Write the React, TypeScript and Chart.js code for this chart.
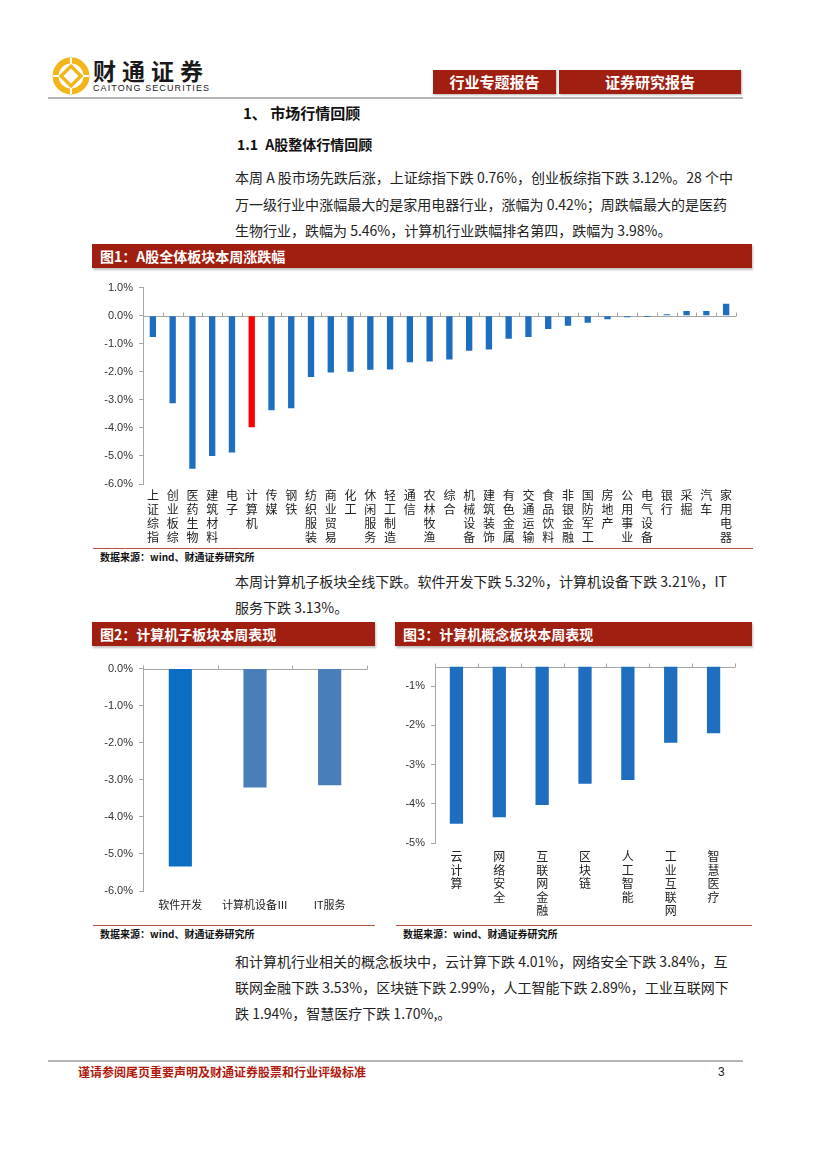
import React, { useEffect, useRef } from "react";
import { Chart, registerables } from "chart.js";

Chart.register(...registerables);

// ---------- data ----------
const industryNames = ["上证综指", "创业板综", "医药生物", "建筑材料", "电子", "计算机", "传媒", "钢铁", "纺织服装", "商业贸易", "化工", "休闲服务", "轻工制造", "通信", "农林牧渔", "综合", "机械设备", "建筑装饰", "有色金属", "交通运输", "食品饮料", "非银金融", "国防军工", "房地产", "公用事业", "电气设备", "银行", "采掘", "汽车", "家用电器"];
const industryChange = [-0.76, -3.12, -5.46, -5.0, -4.88, -3.98, -3.37, -3.3, -2.19, -2.03, -2.0, -1.93, -1.92, -1.66, -1.63, -1.56, -1.25, -1.21, -0.82, -0.76, -0.48, -0.36, -0.25, -0.13, -0.06, -0.05, 0.05, 0.17, 0.17, 0.42];
const highlightName = "计算机";
const industryAxis = [-6, 1];

const subNames = ["软件开发", "计算机设备Ⅲ", "IT服务"];
const subChange = [-5.34, -3.21, -3.15];
const subAxis = [-6, 0];

const conceptNames = ["云计算", "网络安全", "互联网金融", "区块链", "人工智能", "工业互联网", "智慧医疗"];
const conceptChange = [-4.51, -4.34, -4.03, -3.49, -3.39, -2.44, -2.2];
const conceptAxis = [-5, -0.5];

// ---------- styles ----------
const RED = "#A11F10";
const BLUE = "#1E6EC0";
const LIGHT_BLUE = "#4A7EBB";
const AXIS = "#A6A6A6";
const CJK = '"Noto Sans CJK SC", "Noto Sans", sans-serif';
const LATIN = '"Liberation Sans", Arial, sans-serif';

const baselinePlugin = {
  id: "baseline",
  beforeDatasetsDraw(chart: any, _args: any, opts: any) {
    const { ctx, chartArea, scales } = chart;
    const y = Math.round(scales.y.getPixelForValue(opts.value)) + 0.5;
    const n = chart.data.labels.length;
    ctx.save();
    ctx.strokeStyle = AXIS;
    ctx.lineWidth = 1;
    ctx.beginPath();
    ctx.moveTo(chartArea.left, y);
    ctx.lineTo(chartArea.right, y);
    for (let i = 0; i <= n; i++) {
      const x = Math.round(chartArea.left + ((chartArea.right - chartArea.left) * i) / n) + 0.5;
      ctx.moveTo(x, y);
      ctx.lineTo(x, y - 4);
    }
    ctx.stroke();
    ctx.restore();
  },
};

type BarSpec = {
  labels: any[];
  values: number[];
  colors: string[];
  range: number[];
  base: number;
  fmt: (v: number) => string;
  yWidth: number;
  xHeight: number;
  padRight: number;
  barPct: number;
  labelSize: number;
  labelLine: number;
  labelPad: number;
};

function BarChart({ spec, style }: { spec: BarSpec; style: React.CSSProperties }) {
  const ref = useRef<HTMLCanvasElement>(null);
  useEffect(() => {
    const chart = new Chart(ref.current as HTMLCanvasElement, {
      type: "bar",
      data: {
        labels: spec.labels,
        datasets: [
          {
            data: spec.values,
            backgroundColor: spec.colors,
            base: spec.base,
            barPercentage: spec.barPct,
            categoryPercentage: 1,
          } as any,
        ],
      },
      options: {
        responsive: false,
        maintainAspectRatio: false,
        animation: false,
        layout: { padding: { left: 0, right: spec.padRight, top: 0, bottom: 0 } },
        plugins: {
          legend: { display: false },
          tooltip: { enabled: false },
          baseline: { value: spec.base },
        } as any,
        scales: {
          x: {
            grid: { display: false, drawTicks: false },
            border: { display: false },
            ticks: {
              autoSkip: false,
              maxRotation: 0,
              minRotation: 0,
              padding: spec.labelPad,
              color: "#222",
              font: { family: CJK, size: spec.labelSize, lineHeight: spec.labelLine },
            },
            afterFit: (s: any) => {
              s.height = spec.xHeight;
            },
          },
          y: {
            min: spec.range[0],
            max: spec.range[1],
            grid: { drawOnChartArea: false, drawTicks: true, tickLength: 4, tickColor: AXIS },
            border: { display: true, color: AXIS },
            ticks: {
              stepSize: 1,
              includeBounds: false,
              padding: 6,
              color: "#333",
              font: { family: LATIN, size: 11, lineHeight: 1.2 },
              callback: (v: any) => spec.fmt(Number(v)),
            },
            afterFit: (s: any) => {
              s.width = spec.yWidth;
            },
          },
        },
      },
      plugins: [baselinePlugin],
    });
    return () => chart.destroy();
  }, []);
  const w = style.width as number;
  const h = style.height as number;
  return (
    <div style={{ position: "absolute", ...style }}>
      <canvas ref={ref} width={w} height={h} style={{ width: w, height: h, display: "block" }} />
    </div>
  );
}

const vertical = (s: string) => s.split("");

const chart1Spec: BarSpec = {
  labels: industryNames.map(vertical),
  values: industryChange,
  colors: industryNames.map((n) => (n === highlightName ? "#FF0000" : BLUE)),
  range: industryAxis,
  base: 0,
  fmt: (v) => v.toFixed(1) + "%",
  yWidth: 53,
  xHeight: 62,
  padRight: 14,
  barPct: 0.32,
  labelSize: 12,
  labelLine: 1.17,
  labelPad: 4,
};

const chart2Spec: BarSpec = {
  labels: subNames,
  values: subChange,
  colors: subNames.map((_, i) => (i === 0 ? "#0A6EC4" : LIGHT_BLUE)),
  range: subAxis,
  base: 0,
  fmt: (v) => v.toFixed(1) + "%",
  yWidth: 53,
  xHeight: 30,
  padRight: 8,
  barPct: 0.31,
  labelSize: 11,
  labelLine: 1.2,
  labelPad: 7,
};

const chart3Spec: BarSpec = {
  labels: conceptNames.map(vertical),
  values: conceptChange,
  colors: conceptNames.map(() => BLUE),
  range: conceptAxis,
  base: conceptAxis[1],
  fmt: (v) => v.toFixed(0) + "%",
  yWidth: 50,
  xHeight: 75,
  padRight: 15,
  barPct: 0.31,
  labelSize: 12,
  labelLine: 1.12,
  labelPad: 7,
};

// ---------- text ----------
const para1 = [
  "本周 A 股市场先跌后涨，上证综指下跌 0.76%，创业板综指下跌 3.12%。28 个中",
  "万一级行业中涨幅最大的是家用电器行业，涨幅为 0.42%；周跌幅最大的是医药",
  "生物行业，跌幅为 5.46%，计算机行业跌幅排名第四，跌幅为 3.98%。",
];
const para2 = ["本周计算机子板块全线下跌。软件开发下跌 5.32%，计算机设备下跌 3.21%，IT", "服务下跌 3.13%。"];
const para3 = [
  "和计算机行业相关的概念板块中，云计算下跌 4.01%，网络安全下跌 3.84%，互",
  "联网金融下跌 3.53%，区块链下跌 2.99%，人工智能下跌 2.89%，工业互联网下",
  "跌 1.94%，智慧医疗下跌 1.70%,。",
];

function Para({ lines, tops }: { lines: string[]; tops: number[] }) {
  return (
    <>
      {lines.map((t, i) => (
        <div
          key={i}
          style={{
            position: "absolute",
            left: 235,
            top: tops[i] - 10,
            width: 492,
            height: 20,
            lineHeight: "20px",
            fontSize: 14,
            color: "#222",
            whiteSpace: "nowrap",
            textAlign: "justify",
            textAlignLast: i === lines.length - 1 ? "left" : "justify",
          }}
        >
          {t}
        </div>
      ))}
    </>
  );
}

function FigTitle({ left, width, top, text }: { left: number; width: number; top: number; text: string }) {
  return (
    <div
      style={{
        position: "absolute",
        left,
        top,
        width,
        height: 24,
        background: RED,
        color: "#fff",
        fontWeight: 700,
        fontSize: 14,
        lineHeight: "24px",
        paddingLeft: 8,
        boxSizing: "border-box",
        boxShadow: "1px 2px 2px rgba(0,0,0,0.25)",
      }}
    >
      {text}
    </div>
  );
}

function Source({ left, top, width }: { left: number; top: number; width: number }) {
  return (
    <>
      <div style={{ position: "absolute", left: left - 7, top, width, height: 0, borderTop: "1.5px solid #B0503C" }} />
      <div style={{ position: "absolute", left, top: top + 2, fontSize: 10, fontWeight: 700, color: "#111", lineHeight: "14px" }}>
        数据来源：wind、财通证券研究所
      </div>
    </>
  );
}

function Logo() {
  return (
    <svg width={40} height={40} viewBox="0 0 40 40" style={{ position: "absolute", left: 51, top: 56 }}>
      <circle cx={20} cy={20} r={15.5} fill="none" stroke="#F2B51C" strokeWidth={6} />
      <rect x={13} y={13} width={14} height={14} fill="none" stroke="#F2B51C" strokeWidth={3.5} transform="rotate(45 20 20)" />
      <circle cx={20} cy={20} r={3} fill="#fff" />
      <line x1={20} y1={2} x2={20} y2={8} stroke="#fff" strokeWidth={2} />
      <line x1={20} y1={32} x2={20} y2={38} stroke="#fff" strokeWidth={2} />
      <line x1={2} y1={20} x2={8} y2={20} stroke="#fff" strokeWidth={2} />
      <line x1={32} y1={20} x2={38} y2={20} stroke="#fff" strokeWidth={2} />
    </svg>
  );
}

export default function App() {
  return (
    <div
      style={{
        position: "absolute",
        left: 0,
        top: 0,
        width: 827,
        height: 1170,
        background: "#fff",
        fontFamily: CJK,
        overflow: "hidden",
      }}
    >
      <Logo />
      <div style={{ position: "absolute", left: 93, top: 57, fontSize: 23, fontWeight: 700, color: "#1a1a1a", letterSpacing: 6, lineHeight: "26px" }}>
        财通证券
      </div>
      <div style={{ position: "absolute", left: 93, top: 83, fontSize: 9, color: "#222", fontFamily: LATIN, letterSpacing: 1.1, lineHeight: "10px" }}>
        CAITONG SECURITIES
      </div>

      <div style={{ position: "absolute", left: 433, top: 70, width: 123, height: 24, background: RED, color: "#fff", fontWeight: 700, fontSize: 15, lineHeight: "24px", textAlign: "center", boxShadow: "1px 1px 2px rgba(0,0,0,0.3)" }}>
        行业专题报告
      </div>
      <div style={{ position: "absolute", left: 559, top: 70, width: 182, height: 24, background: RED, color: "#fff", fontWeight: 700, fontSize: 15, lineHeight: "24px", textAlign: "center", boxShadow: "1px 1px 2px rgba(0,0,0,0.3)" }}>
        证券研究报告
      </div>
      <div style={{ position: "absolute", left: 48, top: 97, width: 695, height: 2, background: "#B4B4B4" }} />

      <div style={{ position: "absolute", left: 243, top: 103, fontSize: 15, fontWeight: 700, color: "#111", lineHeight: "20px" }}>
        1、 市场行情回顾
      </div>
      <div style={{ position: "absolute", left: 237, top: 134, fontSize: 14, fontWeight: 700, color: "#111", lineHeight: "20px", wordSpacing: 4 }}>
        1.1 A股整体行情回顾
      </div>

      <Para lines={para1} tops={[177, 204, 230]} />

      <FigTitle left={92} width={660} top={244} text="图1：A股全体板块本周涨跌幅" />
      <BarChart spec={chart1Spec} style={{ left: 90, top: 275, width: 660, height: 271 }} />
      <Source left={100} top={548} width={660} />

      <Para lines={para2} tops={[581, 607]} />

      <FigTitle left={92} width={283} top={622} text="图2：计算机子板块本周表现" />
      <FigTitle left={395} width={357} top={622} text="图3：计算机概念板块本周表现" />
      <BarChart spec={chart2Spec} style={{ left: 90, top: 656, width: 285, height: 265 }} />
      <BarChart spec={chart3Spec} style={{ left: 385, top: 654, width: 365, height: 264 }} />
      <Source left={100} top={925} width={282} />
      <Source left={403} top={925} width={356} />

      <Para lines={para3} tops={[961, 987, 1013]} />

      <div style={{ position: "absolute", left: 48, top: 1060, width: 695, height: 2, background: "#B4B4B4" }} />
      <div style={{ position: "absolute", left: 78, top: 1063, fontSize: 12, fontWeight: 700, color: "#B01A0E", lineHeight: "18px" }}>
        谨请参阅尾页重要声明及财通证券股票和行业评级标准
      </div>
      <div style={{ position: "absolute", left: 718, top: 1063, fontSize: 12, color: "#222", lineHeight: "18px", fontFamily: LATIN }}>
        3
      </div>
    </div>
  );
}
